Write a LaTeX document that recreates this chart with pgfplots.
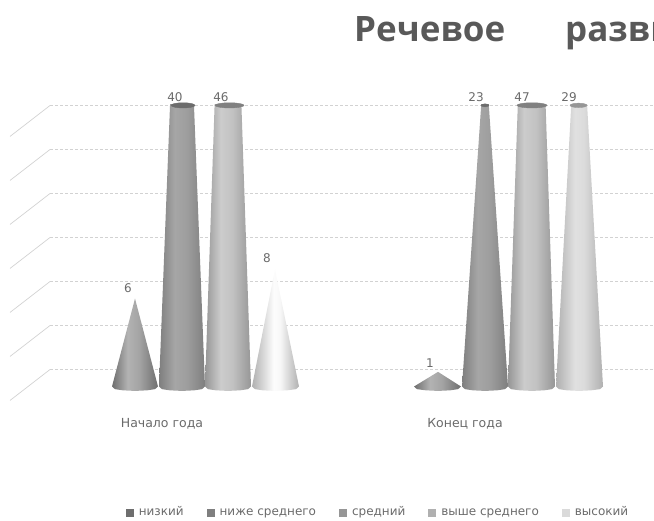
\documentclass[border=0pt]{standalone}
\usepackage{fontspec}
\setmainfont{Open Sans}
\newfontfamily\labelfont{DejaVu Sans}
\usepackage{pgfplots}
\pgfplotsset{compat=1.18}

\definecolor{txt}{HTML}{6A6A6A}
\definecolor{gridc}{HTML}{D2D2D2}
\definecolor{sa}{HTML}{6E6E6E}
\definecolor{sb}{HTML}{7F7F7F}
\definecolor{sc}{HTML}{969696}
\definecolor{sd}{HTML}{B0B0B0}
\definecolor{se}{HTML}{DADADA}

% the bounding box of a shaded path is mapped on 25bp..75bp
\pgfdeclarehorizontalshading{coneA}{100bp}{color(0bp)=(sa); color(25bp)=(sa); color(42bp)=(black!30); color(55bp)=(black!36); color(75bp)=(sa); color(100bp)=(sa)}
\pgfdeclarehorizontalshading{coneB}{100bp}{color(0bp)=(sb); color(25bp)=(sb); color(42bp)=(black!35); color(55bp)=(black!38); color(75bp)=(sb); color(100bp)=(sb)}
\pgfdeclarehorizontalshading{coneC}{100bp}{color(0bp)=(sc); color(25bp)=(sc); color(42bp)=(black!20); color(55bp)=(black!24); color(75bp)=(sc); color(100bp)=(sc)}
\pgfdeclarehorizontalshading{coneD}{100bp}{color(0bp)=(sd); color(25bp)=(sd); color(45bp)=(black!12); color(55bp)=(black!14); color(75bp)=(sd); color(100bp)=(sd)}
\pgfdeclarehorizontalshading{coneE}{100bp}{color(0bp)=(sd); color(25bp)=(sd); color(48bp)=(black!1); color(55bp)=(black!3); color(75bp)=(sd); color(100bp)=(sd)}

\begin{document}
\begin{tikzpicture}
\path[use as bounding box] (0,0) rectangle (654pt,521pt);
\clip (0,0) rectangle (654pt,521pt);

\node[anchor=base west, inner sep=0pt, text=black!65, font=\fontsize{35}{39}\selectfont\bfseries] at (354pt,479pt) {Речевое};
\node[anchor=base west, inner sep=0pt, text=black!65, font=\fontsize{35}{39}\selectfont\bfseries] at (565pt,479pt) {развитие};

\begin{axis}[
    at={(0pt,111pt)}, anchor=south west,
    x=1pt, y=14.667pt,
    xmin=0, xmax=654, ymin=-1.6, ymax=19.2,
    clip mode=individual,
    axis line style={draw=none},
    tick style={draw=none},
    ytick=\empty,
    xtick={162,465},
    xticklabels={Начало года,Конец года},
    xticklabel style={text=txt, font=\labelfont\fontsize{12.5}{14}\selectfont, yshift=-5pt},
    unbounded coords=jump,
    legend style={at={(axis cs:378,-8.6)}, anchor=center, draw=none, fill=none,
        legend columns=5, text=txt, font=\labelfont\fontsize{12}{14}\selectfont,
        nodes={text height=8pt, text depth=2pt},
        /tikz/every odd column/.append style={column sep=3pt},
        /tikz/every even column/.append style={column sep=21pt}},
    legend image code/.code={\fill[draw=none,#1] (0pt,-4pt) rectangle (8pt,4pt);},
    nodes near coords style={anchor=center, inner sep=0pt, text=txt, font=\labelfont\fontsize{12}{14}\selectfont},
]
% walls
\addplot[forget plot, gridc, densely dashed, line width=.7pt] coordinates {
    (50,19.16)(654,19.16)(nan,nan)(50,16.16)(654,16.16)(nan,nan)
    (50,13.16)(654,13.16)(nan,nan)(50,10.16)(654,10.16)(nan,nan)
    (50,7.16)(654,7.16)(nan,nan)(50,4.16)(654,4.16)(nan,nan)
    (50,1.16)(654,1.16)};
\addplot[forget plot, gridc, line width=.7pt] coordinates {
    (10,17.05)(50,19.16)(nan,nan)(10,14.05)(50,16.16)(nan,nan)
    (10,11.05)(50,13.16)(nan,nan)(10,8.05)(50,10.16)(nan,nan)
    (10,5.05)(50,7.16)(nan,nan)(10,2.05)(50,4.16)(nan,nan)
    (10,-0.95)(50,1.16)};

% Начало года
\addplot[forget plot, draw=none, shade, shading=coneA] coordinates {(112,0)(135,6)(158,0)(155,-.18)(147,-.26)(135,-.3)(123,-.26)(115,-.18)} --cycle;
\addplot[forget plot, draw=none, shade, shading=coneB] coordinates {(159,0)(182,40)(205,0)(202,-.18)(194,-.26)(182,-.3)(170,-.26)(162,-.18)} --cycle;
\addplot[forget plot, draw=none, shade, shading=coneC] coordinates {(205,0)(228,46)(251,0)(248,-.18)(240,-.26)(228,-.3)(216,-.26)(208,-.18)} --cycle;
\addplot[forget plot, draw=none, shade, shading=coneE] coordinates {(252,0)(275,8)(299,0)(296,-.18)(287,-.26)(275,-.3)(263,-.26)(255,-.18)} --cycle;
% Конец года
\addplot[forget plot, draw=none, shade, shading=coneA] coordinates {(414,0)(438,1)(461,0)(458,-.18)(450,-.26)(438,-.3)(426,-.26)(417,-.18)} --cycle;
\addplot[forget plot, draw=none, shade, shading=coneB] coordinates {(462,0)(485,23)(508,0)(505,-.18)(497,-.26)(485,-.3)(473,-.26)(465,-.18)} --cycle;
\addplot[forget plot, draw=none, shade, shading=coneC] coordinates {(508,0)(532,47)(555,0)(552,-.18)(544,-.26)(532,-.3)(520,-.26)(511,-.18)} --cycle;
\addplot[forget plot, draw=none, shade, shading=coneD] coordinates {(556,0)(579,29)(603,0)(600,-.18)(591,-.26)(579,-.3)(567,-.26)(559,-.18)} --cycle;

% cut tops of the cones above the axis limit
\addplot[forget plot, only marks, mark=*, mark size=1pt, color=sb!85!black, mark options={draw=none, xscale=12, yscale=2.6}] coordinates {(183,19.17)};
\addplot[forget plot, only marks, mark=*, mark size=1pt, color=sc!85!black, mark options={draw=none, xscale=14.5, yscale=2.6}] coordinates {(229.5,19.17)};
\addplot[forget plot, only marks, mark=*, mark size=1pt, color=sb!85!black, mark options={draw=none, xscale=4, yscale=1.5}] coordinates {(485,19.17)};
\addplot[forget plot, only marks, mark=*, mark size=1pt, color=sc!85!black, mark options={draw=none, xscale=15, yscale=2.6}] coordinates {(532,19.17)};
\addplot[forget plot, only marks, mark=*, mark size=1pt, color=sd!85!black, mark options={draw=none, xscale=8.5, yscale=2.2}] coordinates {(578.5,19.17)};

% value labels, the tall ones sit above the axis limit
\addplot[forget plot, only marks, mark=none, nodes near coords, point meta=explicit symbolic]
    table[meta=v] {
x y v
128 6.68 6
267 8.73 8
430 1.62 1
};
\addplot[forget plot, only marks, mark=none, nodes near coords, point meta=explicit symbolic,
    nodes near coords style={yshift=8.5pt}]
    table[meta=v] {
x y v
175 19.17 40
221 19.17 46
476 19.17 23
522 19.17 47
569 19.17 29
};

\addlegendimage{fill=sa}\addlegendentry{низкий}
\addlegendimage{fill=sb}\addlegendentry{ниже среднего}
\addlegendimage{fill=sc}\addlegendentry{средний}
\addlegendimage{fill=sd}\addlegendentry{выше среднего}
\addlegendimage{fill=se}\addlegendentry{высокий}
\end{axis}
\end{tikzpicture}
\end{document}
